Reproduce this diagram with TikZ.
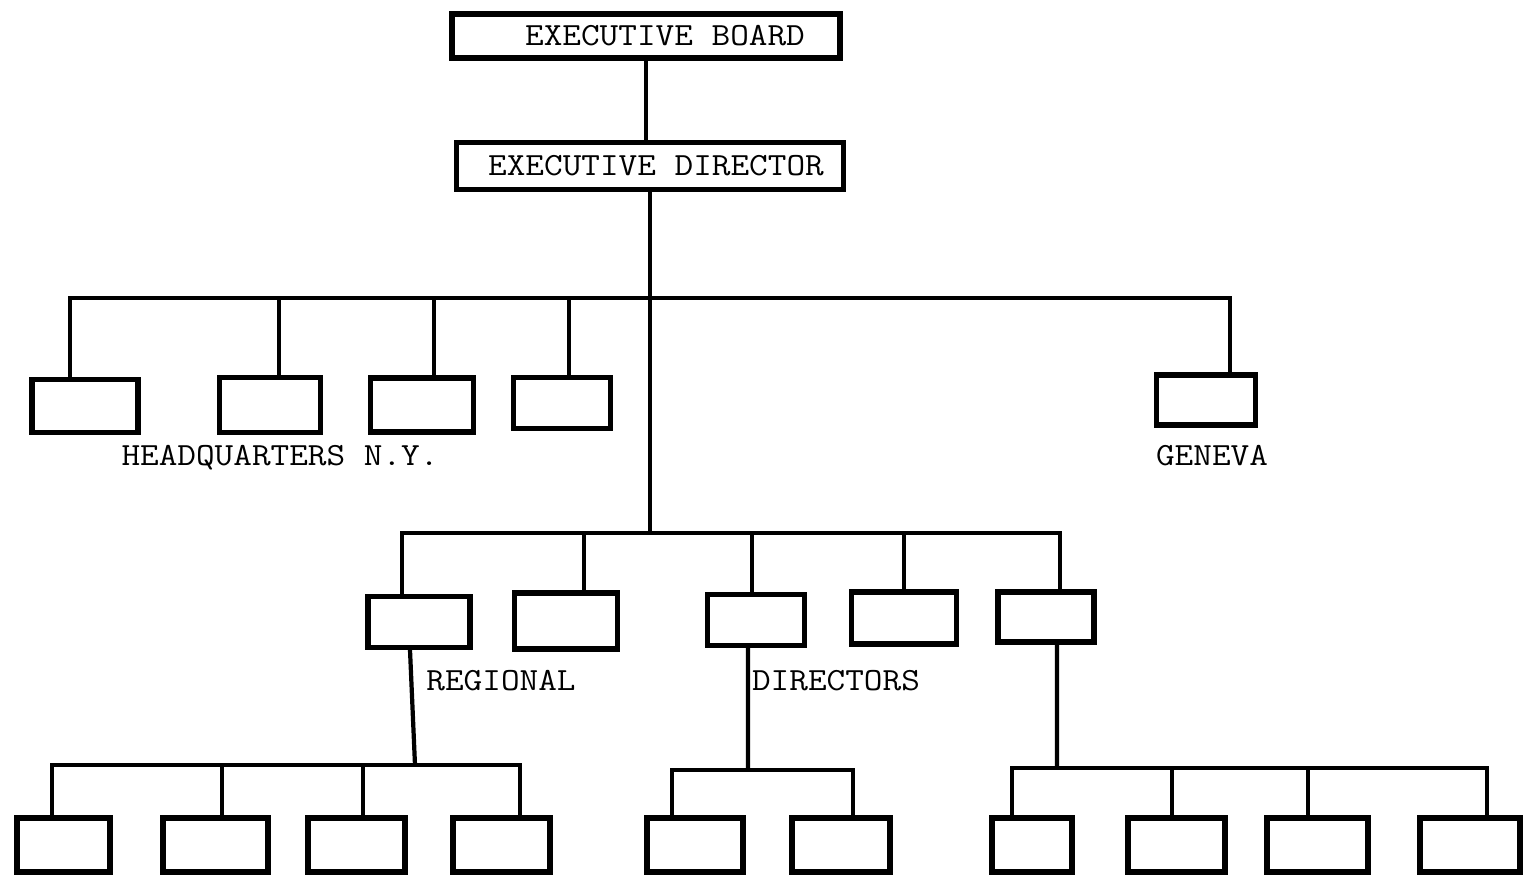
\documentclass[tikz,border=0pt]{standalone}
\usepackage{fontspec}
\setmonofont{Latin Modern Mono}[FakeStretch=1.12]
\usepackage{tikz}
\tikzset{
  %Define style for the empty boxes
  unit/.style={
    rectangle,
    draw=black, line width=3pt,
    inner sep=0pt,
    minimum height=1.08cm},
  %Define style for the boxes with a title
  head/.style={
    unit,
    font=\ttfamily\fontsize{18.4}{20}\selectfont,
    text height=11.2pt, text depth=0pt},
  % Define line style
  link/.style={
    line width=2.4pt,
    line join=miter}
}

\begin{document}
\begin{tikzpicture}[x=0.02cm,y=-0.02cm,
        tag/.style={font=\ttfamily\fontsize{18.4}{20}\selectfont,
          text height=11.2pt, text depth=0pt, inner sep=0pt}]
  \useasboundingbox (0,0) rectangle (1527,877);
  % top of the chart
  \node[head, minimum width=7.76cm, minimum height=0.88cm] (board) at (646,36) {\hspace*{0.76cm}EXECUTIVE BOARD};
  \node[head, minimum width=7.74cm, minimum height=0.94cm] (director) at (650,166) {\hspace*{0.24cm}EXECUTIVE DIRECTOR};
  \coordinate (hqbar) at (650,298);
  \coordinate (regbar) at (650,533);
  \draw[link] (board.south) -- (board.south |- director.north);
  \draw[link] (director) -- (regbar);

  % headquarters and geneva
  \node[unit, minimum width=2.12cm, minimum height=1.06cm] (hq1) at (85,406) {};
  \node[unit, minimum width=2.02cm, minimum height=1.10cm] (hq2) at (270,405) {};
  \node[unit, minimum width=2.06cm] (hq3) at (422,405) {};
  \node[unit, minimum width=1.94cm, minimum height=1.02cm] (hq4) at (562,403) {};
  \node[unit, minimum width=1.98cm, minimum height=1.00cm] (geneva) at (1206,400) {};
  \foreach \n/\s in {hq1/-0.30,hq2/0.18,hq3/0.24,hq4/0.14,geneva/0.48}
    \draw[link] (hqbar) -| ([xshift=\s cm]\n.north);
  \node[tag] (hqname) at (280,456) {HEADQUARTERS N.Y.};
  \node[tag] (genevaname) at (1212,456) {GENEVA};

  % regional directors
  \node[unit, minimum width=2.04cm, minimum height=1.02cm] (reg1) at (419,622) {};
  \node[unit, minimum width=2.06cm, minimum height=1.12cm] (reg2) at (566,621) {};
  \node[unit, minimum width=1.94cm, minimum height=1.02cm] (reg3) at (756,620) {};
  \node[unit, minimum width=2.10cm, minimum height=1.04cm] (reg4) at (904,618) {};
  \node[unit, minimum width=1.92cm, minimum height=1.00cm] (reg5) at (1046,617) {};
  \foreach \n/\s in {reg1/-0.34,reg2/0.36,reg3/-0.08,reg4/0,reg5/0.28}
    \draw[link] (regbar) -| ([xshift=\s cm]\n.north);
  \node[tag] (regname) at (501,681) {REGIONAL};
  \node[tag] (dirname) at (836,681) {DIRECTORS};

  % field offices
  \coordinate (leftbar) at (415,765);
  \coordinate (midbar) at (748,770);
  \coordinate (rightbar) at (1057,768);
  \draw[link] ([xshift=-0.18cm]reg1.south) -- (leftbar);
  \draw[link] ([xshift=-0.16cm]reg3.south) -- (midbar);
  \draw[link] ([xshift=0.22cm]reg5.south) -- (rightbar);
  \foreach \n/\x/\w in {b1/63.5/1.86,b2/215.5/2.10,b3/356.5/1.94,b4/501.5/1.94,
      b5/695/1.92,b6/841/1.96,b7/1032/1.60,b8/1176.5/1.94,b9/1317.5/2.02,b10/1470/2.00}
    \node[unit, minimum width=\w cm] (\n) at (\x,845) {};
  \foreach \n/\s in {b1/-0.23,b2/0.13,b3/0.13,b4/0.37}
    \draw[link] (leftbar) -| ([xshift=\s cm]\n.north);
  \foreach \n/\s in {b5/-0.46,b6/0.24}
    \draw[link] (midbar) -| ([xshift=\s cm]\n.north);
  \foreach \n/\s in {b7/-0.40,b8/-0.09,b9/-0.19,b10/0.34}
    \draw[link] (rightbar) -| ([xshift=\s cm]\n.north);
\end{tikzpicture}
\end{document}
